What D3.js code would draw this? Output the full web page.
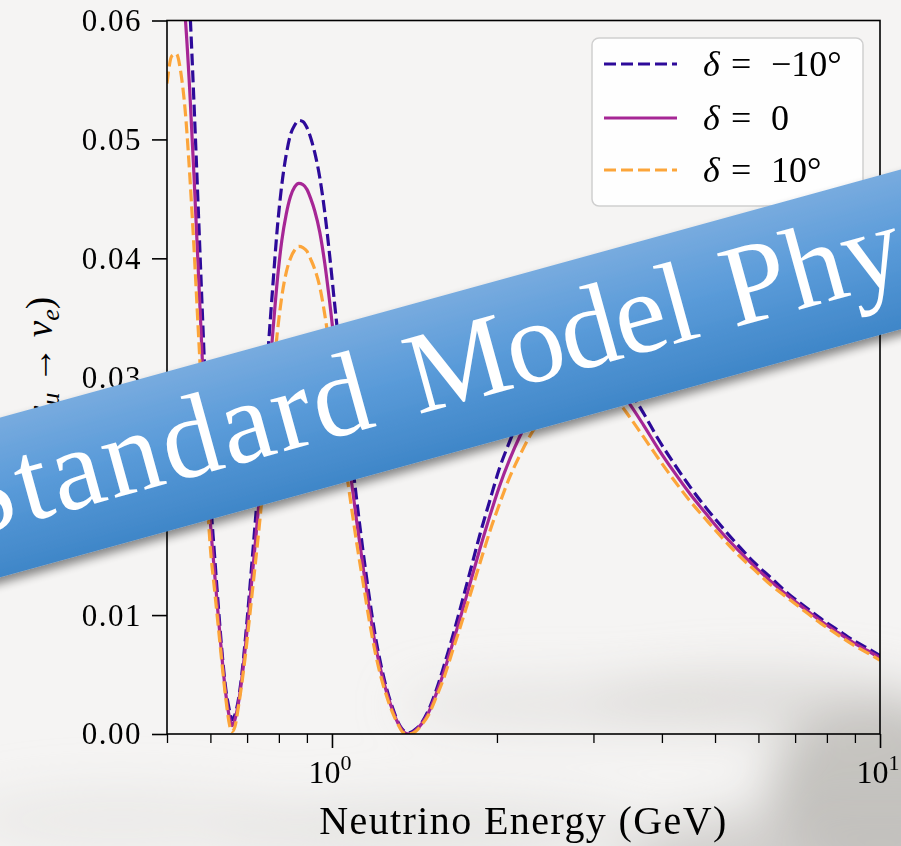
<!DOCTYPE html>
<html>
<head>
<meta charset="utf-8">
<script src="https://cdn.jsdelivr.net/npm/d3@7"></script>
<style>
  html, body { margin: 0; padding: 0; background: #f5f4f3; }
  svg { display: block; }
</style>
</head>
<body>
<svg id="chart" width="901" height="846"></svg>
<script>
// ---------------- data ----------------
const energy = [0.500, 0.510, 0.520, 0.530, 0.540, 0.550, 0.560, 0.570, 0.580, 0.590,
  0.600, 0.610, 0.620, 0.630, 0.640, 0.650, 0.657, 0.665, 0.675, 0.685,
  0.695, 0.705, 0.715, 0.725, 0.735, 0.750, 0.765, 0.780, 0.795, 0.810,
  0.825, 0.840, 0.855, 0.870, 0.885, 0.900, 0.915, 0.930, 0.950, 0.970,
  0.990, 1.010, 1.035, 1.060, 1.085, 1.110, 1.140, 1.170, 1.200, 1.230,
  1.260, 1.290, 1.320, 1.350, 1.380, 1.420, 1.460, 1.500, 1.550, 1.600,
  1.660, 1.720, 1.790, 1.860, 1.940, 2.020, 2.110, 2.200, 2.300, 2.420,
  2.550, 2.700, 2.850, 3.000, 3.150, 3.300, 3.500, 3.700, 3.950, 4.200,
  4.500, 4.800, 5.150, 5.500, 5.900, 6.300, 6.800, 7.300, 7.800, 8.400,
  9.000, 9.500, 10.000];

const probMinus10 = [0.0713, 0.0746, 0.0748, 0.0726, 0.0681, 0.0613, 0.0531, 0.0443, 0.0355, 0.0272,
  0.0200, 0.0153, 0.0109, 0.0069, 0.0038, 0.0020, 0.0012, 0.0016, 0.0029, 0.0051,
  0.0080, 0.0112, 0.0146, 0.0180, 0.0214, 0.0268, 0.0324, 0.0377, 0.0426, 0.0462,
  0.0487, 0.0504, 0.0512, 0.0516, 0.0515, 0.0510, 0.0501, 0.0489, 0.0468, 0.0439,
  0.0403, 0.0364, 0.0318, 0.0276, 0.0235, 0.0196, 0.0153, 0.0115, 0.0082, 0.0057,
  0.0037, 0.0022, 0.0010, 0.0003, 0.0001, 0.0004, 0.0010, 0.0020, 0.0037, 0.0057,
  0.0082, 0.0108, 0.0138, 0.0167, 0.0196, 0.0223, 0.0246, 0.0266, 0.0283, 0.0298,
  0.0308, 0.0314, 0.0317, 0.0317, 0.0313, 0.0305, 0.0288, 0.0270, 0.0247, 0.0228,
  0.0208, 0.0191, 0.0174, 0.0159, 0.0144, 0.0132, 0.0118, 0.0107, 0.0097, 0.0087,
  0.0078, 0.0072, 0.0066];

const probZero = [0.0630, 0.0658, 0.0660, 0.0641, 0.0602, 0.0542, 0.0470, 0.0392, 0.0315, 0.0241,
  0.0178, 0.0138, 0.0100, 0.0064, 0.0034, 0.0014, 0.0007, 0.0012, 0.0026, 0.0047,
  0.0073, 0.0102, 0.0132, 0.0162, 0.0192, 0.0240, 0.0290, 0.0338, 0.0382, 0.0415,
  0.0437, 0.0452, 0.0460, 0.0463, 0.0462, 0.0458, 0.0450, 0.0440, 0.0422, 0.0396,
  0.0364, 0.0329, 0.0288, 0.0250, 0.0213, 0.0178, 0.0140, 0.0105, 0.0075, 0.0052,
  0.0034, 0.0020, 0.0009, 0.0002, 0.0000, 0.0003, 0.0009, 0.0018, 0.0034, 0.0052,
  0.0076, 0.0100, 0.0128, 0.0155, 0.0183, 0.0208, 0.0231, 0.0250, 0.0267, 0.0282,
  0.0292, 0.0299, 0.0302, 0.0303, 0.0300, 0.0293, 0.0277, 0.0260, 0.0239, 0.0221,
  0.0202, 0.0186, 0.0169, 0.0155, 0.0141, 0.0129, 0.0116, 0.0105, 0.0095, 0.0085,
  0.0076, 0.0070, 0.0064];

const probPlus10 = [0.0547, 0.0570, 0.0572, 0.0556, 0.0523, 0.0471, 0.0409, 0.0341, 0.0275, 0.0210,
  0.0156, 0.0123, 0.0091, 0.0059, 0.0030, 0.0008, 0.0002, 0.0006, 0.0023, 0.0043,
  0.0066, 0.0092, 0.0118, 0.0144, 0.0170, 0.0212, 0.0256, 0.0299, 0.0338, 0.0368,
  0.0388, 0.0400, 0.0407, 0.0410, 0.0409, 0.0406, 0.0399, 0.0391, 0.0376, 0.0353,
  0.0325, 0.0294, 0.0258, 0.0224, 0.0191, 0.0160, 0.0127, 0.0095, 0.0068, 0.0047,
  0.0031, 0.0018, 0.0008, 0.0001, 0.0000, 0.0002, 0.0008, 0.0016, 0.0031, 0.0047,
  0.0070, 0.0092, 0.0118, 0.0143, 0.0170, 0.0193, 0.0216, 0.0234, 0.0251, 0.0266,
  0.0276, 0.0284, 0.0287, 0.0289, 0.0287, 0.0281, 0.0266, 0.0250, 0.0231, 0.0214,
  0.0196, 0.0181, 0.0165, 0.0151, 0.0138, 0.0126, 0.0114, 0.0103, 0.0093, 0.0083,
  0.0074, 0.0068, 0.0062];

const deltaValues = ["\u221210\u00B0", "0", "10\u00B0"];
const yTicks = [0.00, 0.01, 0.02, 0.03, 0.04, 0.05, 0.06];
const yTickLabels = ["0.00", "0.01", "0.02", "0.03", "0.04", "0.05", "0.06"];
const xMajorTicks = [1, 10];
const xMajorExponents = ["0", "1"];
const xMinorTicks = [0.5, 0.6, 0.7, 0.8, 0.9, 2, 3, 4, 5, 6, 7, 8, 9];
const xDomain = [0.5, 10];
const yDomain = [0, 0.06];
const xLabel = "Neutrino Energy (GeV)";
const bannerWords = ["Standard", "Model", "Physics"];

// ---------------- drawing ----------------
const FONT = "'Liberation Serif', 'Times New Roman', serif";
const svg = d3.select("#chart");
const L = 167, R = 880, T = 20.5, B = 734;

const defs = svg.append("defs");
const blur = defs.append("filter").attr("id", "soft")
  .attr("x", "-50%").attr("y", "-50%").attr("width", "200%").attr("height", "200%");
blur.append("feGaussianBlur").attr("stdDeviation", 24);

const grad = defs.append("linearGradient").attr("id", "bannerGrad")
  .attr("x1", 0).attr("y1", 0).attr("x2", 0).attr("y2", 1);
grad.append("stop").attr("offset", "0%").attr("stop-color", "#78abdf");
grad.append("stop").attr("offset", "45%").attr("stop-color", "#5a9bd9");
grad.append("stop").attr("offset", "100%").attr("stop-color", "#3f86c8");

const shadow = defs.append("filter").attr("id", "shadow")
  .attr("x", "-10%").attr("y", "-30%").attr("width", "120%").attr("height", "170%");
shadow.append("feDropShadow").attr("dx", 0).attr("dy", 6).attr("stdDeviation", 5)
  .attr("flood-color", "#000").attr("flood-opacity", 0.45);

defs.append("clipPath").attr("id", "plotClip")
  .append("rect").attr("x", L).attr("y", T).attr("width", R - L).attr("height", B - T);

// paper-like background
svg.append("rect").attr("width", 901).attr("height", 846).attr("fill", "#f5f4f3");
const smudges = svg.append("g").attr("filter", "url(#soft)");
[[880, 790, 110, 90, "#b4b1ae", 0.75],
 [760, 700, 170, 28, "#cfcdca", 0.6],
 [560, 705, 160, 24, "#dbd9d7", 0.55],
 [880, 860, 260, 55, "#c2bfbc", 0.7],
 [430, 830, 220, 30, "#dcdad8", 0.6],
 [120, 820, 160, 30, "#e2e0de", 0.5]].forEach(s => {
  smudges.append("ellipse").attr("cx", s[0]).attr("cy", s[1]).attr("rx", s[2]).attr("ry", s[3])
    .attr("fill", s[4]).attr("opacity", s[5]);
});

const x = d3.scaleLog().domain(xDomain).range([L, R]);
const y = d3.scaleLinear().domain(yDomain).range([B, T]);

// y axis
const yAxis = svg.append("g").attr("transform", `translate(${L},0)`)
  .call(d3.axisLeft(y).tickValues(yTicks).tickFormat((d, i) => yTickLabels[i]).tickSize(15).tickPadding(10));
yAxis.select(".domain").remove();
yAxis.selectAll(".tick line").attr("stroke", "#000").attr("stroke-width", 1.6);
yAxis.selectAll(".tick text").attr("font-family", FONT).attr("font-size", 31)
  .attr("fill", "#000").style("letter-spacing", "1.5px");

// x axis: major and minor ticks
const xAxisMajor = svg.append("g").attr("transform", `translate(0,${B})`)
  .call(d3.axisBottom(x).tickValues(xMajorTicks).tickFormat(() => "").tickSize(14));
xAxisMajor.select(".domain").remove();
xAxisMajor.selectAll(".tick line").attr("stroke", "#000").attr("stroke-width", 1.6);
const xAxisMinor = svg.append("g").attr("transform", `translate(0,${B})`)
  .call(d3.axisBottom(x).tickValues(xMinorTicks).tickFormat(() => "").tickSize(9));
xAxisMinor.select(".domain").remove();
xAxisMinor.selectAll(".tick line").attr("stroke", "#000").attr("stroke-width", 1.3);

xMajorTicks.forEach((v, i) => {
  const t = svg.append("text").attr("x", x(v) - 2).attr("y", 783)
    .attr("text-anchor", "middle").attr("font-family", FONT).attr("font-size", 32).attr("fill", "#000");
  t.append("tspan").text("10");
  t.append("tspan").attr("dy", -13).attr("font-size", 22).text(xMajorExponents[i]);
});

svg.append("text").attr("x", (L + R) / 2).attr("y", 834).attr("text-anchor", "middle")
  .attr("font-family", FONT).attr("font-size", 40).attr("fill", "#000")
  .style("letter-spacing", "1.4px").text(xLabel);

// y label  P(ν_μ → ν_e)
const yl = svg.append("text").attr("transform", "translate(52,377) rotate(-90)")
  .attr("text-anchor", "middle").attr("font-family", FONT).attr("font-size", 37).attr("fill", "#000");
yl.append("tspan").attr("font-style", "italic").text("P");
yl.append("tspan").text("(");
yl.append("tspan").attr("font-style", "italic").text("\u03BD");
yl.append("tspan").attr("font-style", "italic").attr("font-size", 26).attr("dy", 7).text("\u03BC");
yl.append("tspan").attr("dy", -7).text(" \u2192 ");
yl.append("tspan").attr("font-style", "italic").text("\u03BD");
yl.append("tspan").attr("font-style", "italic").attr("font-size", 26).attr("dy", 7).text("e");
yl.append("tspan").attr("dy", -7).text(")");

// curves
const series = [
  { values: probMinus10, color: "#2d0a9a", dash: "12,5" },
  { values: probZero,    color: "#a62695", dash: null },
  { values: probPlus10,  color: "#fca53a", dash: "12,5" }
];
const line = d3.line().x(d => x(d[0])).y(d => y(d[1])).curve(d3.curveMonotoneX);
const curves = svg.append("g").attr("clip-path", "url(#plotClip)");
series.forEach(s => {
  curves.append("path").datum(energy.map((e, i) => [e, s.values[i]]))
    .attr("d", line).attr("fill", "none").attr("stroke", s.color).attr("stroke-width", 3.2)
    .attr("stroke-dasharray", s.dash).attr("stroke-linejoin", "round");
});

// spines
svg.append("rect").attr("x", L).attr("y", T).attr("width", R - L).attr("height", B - T)
  .attr("fill", "none").attr("stroke", "#000").attr("stroke-width", 1.6);

// legend
const lg = svg.append("g");
lg.append("rect").attr("x", 592).attr("y", 38).attr("width", 271).attr("height", 168).attr("rx", 7)
  .attr("fill", "#ffffff").attr("fill-opacity", 0.85).attr("stroke", "#cfcfcf").attr("stroke-width", 1.5);
const rowsY = [64, 118, 170];
series.forEach((s, i) => {
  lg.append("line").attr("x1", 604).attr("x2", 677).attr("y1", rowsY[i]).attr("y2", rowsY[i])
    .attr("stroke", s.color).attr("stroke-width", 3.2).attr("stroke-dasharray", s.dash);
  const g = lg.append("g").attr("font-family", FONT).attr("font-size", 36).attr("fill", "#000");
  g.append("text").attr("x", 703).attr("y", rowsY[i] + 12).attr("font-style", "italic").text("\u03B4");
  g.append("text").attr("x", 731).attr("y", rowsY[i] + 12).text("=");
  g.append("text").attr("x", 771).attr("y", rowsY[i] + 12).text(deltaValues[i]);
});

// banner
const ANG = 15.4, rad = ANG * Math.PI / 180, CX = 450, CY = 373.5, BASE = 31;
const bn = svg.append("g").attr("transform", `translate(${CX},${CY}) rotate(${-ANG})`);
bn.append("rect").attr("x", -800).attr("y", -77).attr("width", 1600).attr("height", 154)
  .attr("fill", "url(#bannerGrad)").attr("filter", "url(#shadow)");
// word placement along the baseline (global x at baseline level)
const toLocal = gx => (gx - CX - Math.sin(rad) * BASE) / Math.cos(rad);
const wordLayout = [
  { start: -38, end: 378, measureChars: 8 },
  { start: 418, end: 703, measureChars: 5 },
  { start: 734, end: 909, measureChars: 3 }
];
bannerWords.forEach((w, i) => {
  const lay = wordLayout[i];
  const t = bn.append("text").attr("x", toLocal(lay.start)).attr("y", BASE)
    .attr("font-family", FONT).attr("font-size", 116).attr("fill", "#ffffff").text(w);
  const node = t.node();
  const n = lay.measureChars;
  const natural = node.getSubStringLength(0, n);
  const target = (lay.end - lay.start) / Math.cos(rad);
  const ls = (target - natural) / (n - 1);
  t.style("letter-spacing", ls.toFixed(2) + "px");
});
</script>
</body>
</html>
